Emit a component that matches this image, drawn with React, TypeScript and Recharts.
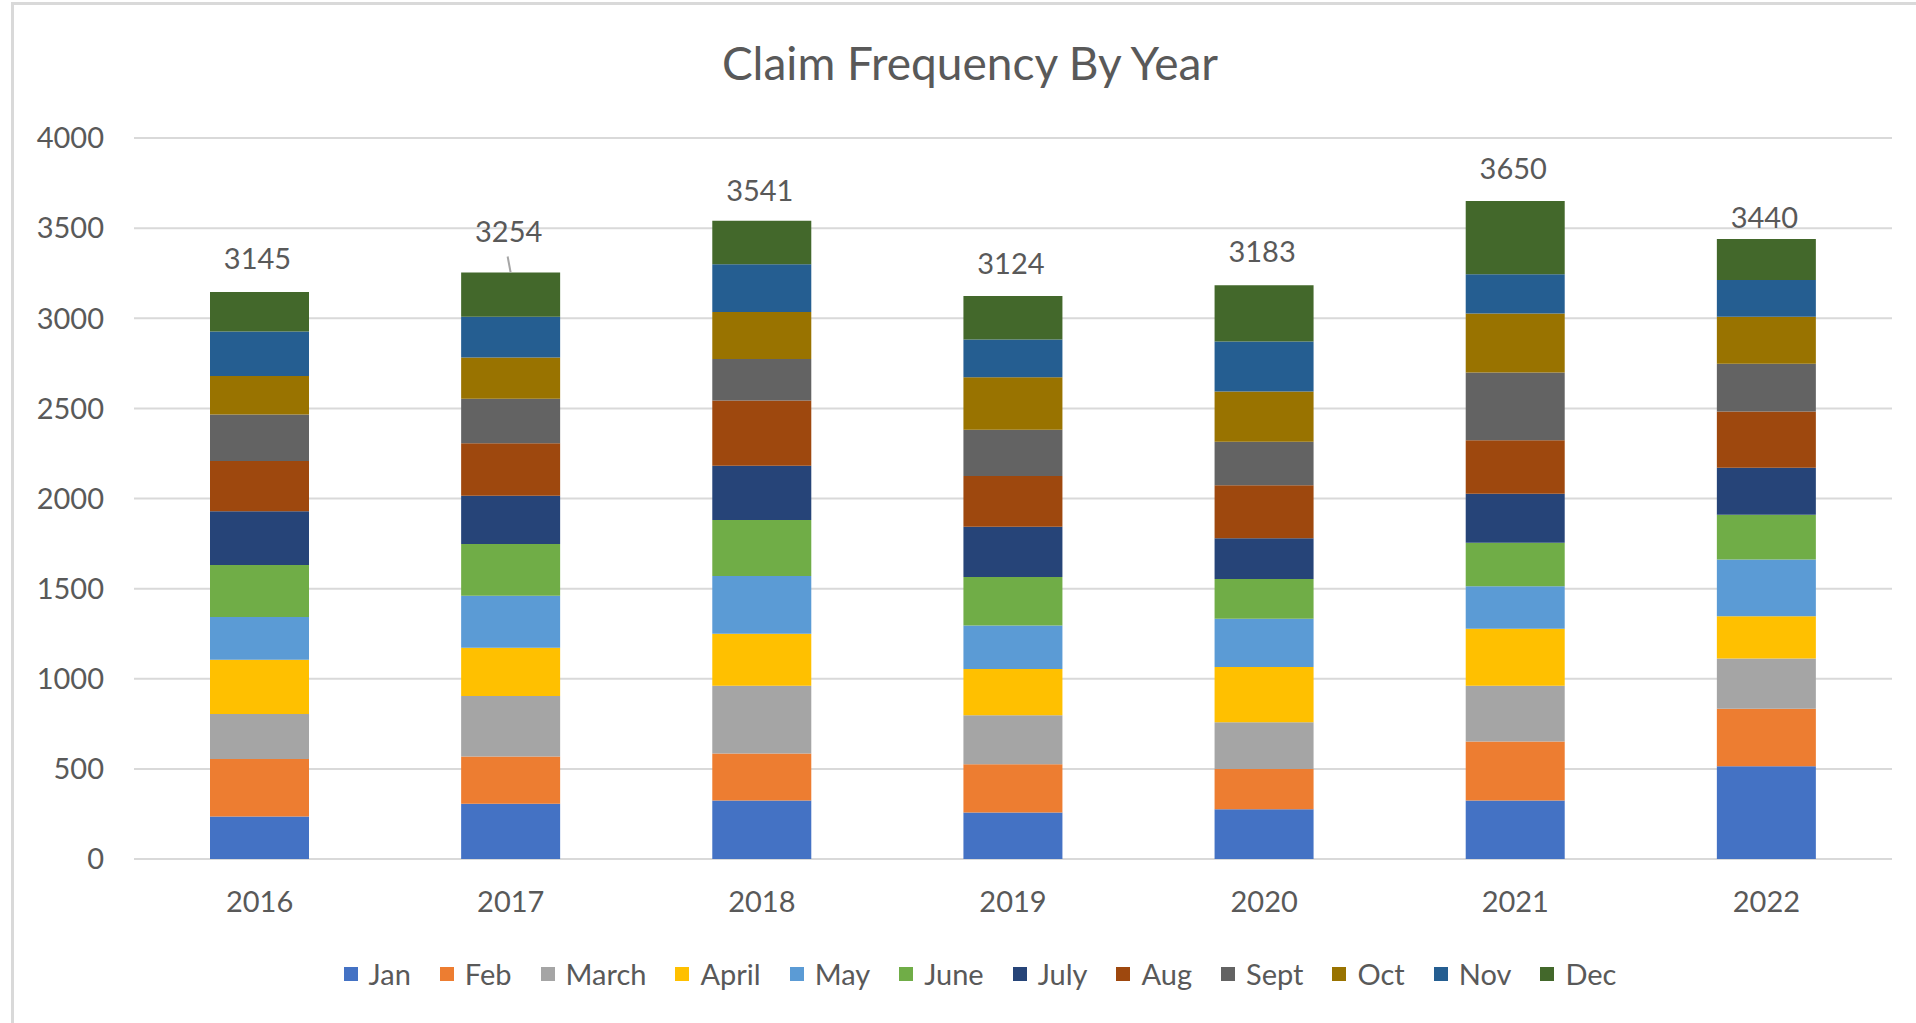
import { Bar, BarChart, CartesianGrid, LabelList, Legend, XAxis, YAxis } from "recharts"

const years = ["2016", "2017", "2018", "2019", "2020", "2021", "2022"]

const months = ["Jan", "Feb", "March", "April", "May", "June", "July", "Aug", "Sept", "Oct", "Nov", "Dec"]

const monthColors = [
  "#4472C4",
  "#ED7D31",
  "#A5A5A5",
  "#FFC000",
  "#5B9BD5",
  "#70AD47",
  "#264478",
  "#9E480E",
  "#636363",
  "#997300",
  "#255E91",
  "#43682B",
]

// claims per month, one array per year (Jan..Dec)
const claims2016 = [236, 319, 250, 300, 237, 289, 298, 279, 258, 214, 247, 218]
const claims2017 = [306, 263, 335, 268, 288, 287, 268, 292, 247, 228, 226, 246]
const claims2018 = [325, 260, 376, 289, 320, 311, 300, 362, 231, 260, 266, 241]
const claims2019 = [258, 268, 271, 257, 242, 268, 279, 282, 257, 290, 210, 242]
const claims2020 = [276, 223, 260, 306, 268, 220, 226, 295, 241, 279, 277, 312]
const claims2021 = [325, 327, 309, 316, 236, 242, 271, 297, 376, 327, 218, 406]
const claims2022 = [515, 319, 279, 234, 314, 249, 261, 311, 265, 261, 204, 228]

const yearTotals = [3145, 3254, 3541, 3124, 3183, 3650, 3440]

const yTicks = [0, 500, 1000, 1500, 2000, 2500, 3000, 3500, 4000]

const claimsByYear = [claims2016, claims2017, claims2018, claims2019, claims2020, claims2021, claims2022]

const chartData = years.map((year, i) => {
  const row: Record<string, string | number> = { year, total: yearTotals[i] }
  months.forEach((m, j) => {
    row[m] = claimsByYear[i][j]
  })
  return row
})

const FONT = "Lato, 'Open Sans', sans-serif"
const TEXT = "#595959"

// some labels in the original were dragged by hand
const labelLift: Record<number, number> = { 1: 42, 2: 31, 3: 33, 5: 34, 6: 22 }

function TotalLabel(props: any) {
  const { x, y, width, index, value } = props
  const cx = Number(x) + Number(width) / 2
  const lift = labelLift[index] ?? 35
  return (
    <g>
      {index === 1 ? (
        <line x1={cx - 3} y1={Number(y) - 16} x2={cx} y2={Number(y)} stroke="#a6a6a6" strokeWidth={2} />
      ) : null}
      <text
        x={cx - 2}
        y={Number(y) - lift}
        textAnchor="middle"
        dominantBaseline="central"
        fill={TEXT}
        fontSize={29}
        fontFamily={FONT}
      >
        {value}
      </text>
    </g>
  )
}

function LegendRow({ payload }: any) {
  const items = [...(payload ?? [])].sort(
    (a: any, b: any) => months.indexOf(String(a.value)) - months.indexOf(String(b.value)),
  )
  return (
    <div style={{ display: "flex", justifyContent: "center", alignItems: "center", fontFamily: FONT }}>
      {items.map((entry: any, i: number) => (
        <div
          key={entry.value}
          style={{ display: "flex", alignItems: "center", marginRight: i === items.length - 1 ? 0 : 29 }}
        >
          <span style={{ width: 14, height: 14, background: entry.color, marginRight: 11, display: "inline-block" }} />
          <span style={{ fontSize: 29, color: TEXT }}>{entry.value}</span>
        </div>
      ))}
    </div>
  )
}

export default function App() {
  return (
    <div
      style={{
        position: "fixed",
        left: 0,
        top: 0,
        width: 1916,
        height: 1023,
        background: "#fff",
        overflow: "hidden",
      }}
    >
      <div
        style={{
          position: "absolute",
          left: 11,
          top: 2,
          width: 1940,
          height: 1060,
          border: "3px solid #d9d9d9",
        }}
      />
      <div
        style={{
          position: "absolute",
          left: 12,
          top: 36,
          width: 1916,
          textAlign: "center",
          fontFamily: FONT,
          fontSize: 46,
          color: TEXT,
          lineHeight: "54px",
        }}
      >
        Claim Frequency By Year
      </div>
      <div style={{ position: "absolute", left: 0, top: 0 }}>
        <BarChart
          width={1916}
          height={1023}
          data={chartData}
          margin={{ top: 138, right: 24, bottom: 99, left: 0 }}
          barSize={99}
        >
          <CartesianGrid stroke="#d9d9d9" strokeWidth={2} vertical={false} />
          <XAxis
            dataKey="year"
            axisLine={false}
            tickLine={false}
            tickSize={0}
            tickMargin={32}
            tick={{ fill: TEXT, fontSize: 29, fontFamily: FONT }}
          />
          <YAxis
            domain={[0, 4000]}
            ticks={yTicks}
            width={134}
            axisLine={false}
            tickLine={false}
            tickSize={0}
            tickMargin={30}
            tick={{ fill: TEXT, fontSize: 29, fontFamily: FONT }}
          />
          <Legend
            verticalAlign="bottom"
            content={<LegendRow />}
            wrapperStyle={{ left: 22, width: 1916, bottom: 32 }}
          />
          {months.map((m, i) => (
            <Bar key={m} dataKey={m} stackId="claims" fill={monthColors[i]} isAnimationActive={false}>
              {i === months.length - 1 ? <LabelList dataKey="total" content={<TotalLabel />} /> : null}
            </Bar>
          ))}
        </BarChart>
      </div>
    </div>
  )
}
